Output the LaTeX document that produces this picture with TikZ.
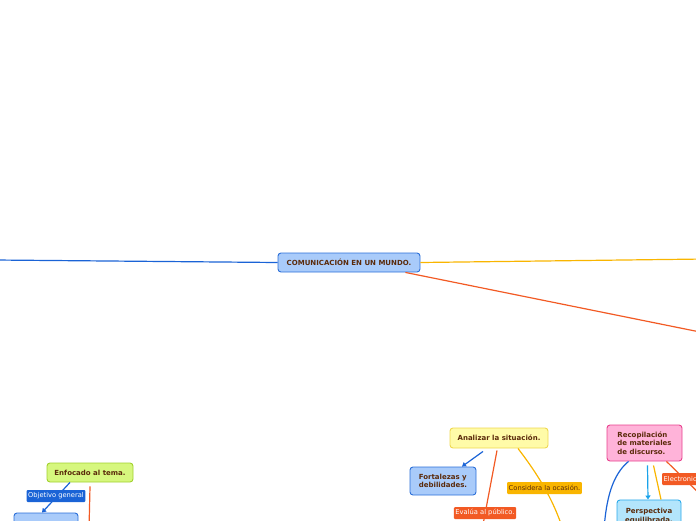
\documentclass[tikz,border=0pt]{standalone}
\usepackage{fontspec}
\setmainfont{DejaVu Sans}
\usepackage{tikz}
\usetikzlibrary{arrows.meta,positioning,calc}
\definecolor{cafe}{HTML}{5A2A0A}
\definecolor{azulF}{HTML}{A9CBFA}
\definecolor{azulB}{HTML}{2B6FD8}
\definecolor{verdeF}{HTML}{D6F77E}
\definecolor{verdeB}{HTML}{A2D12E}
\definecolor{amaF}{HTML}{FFFBA8}
\definecolor{amaB}{HTML}{EED850}
\definecolor{rosaF}{HTML}{FFB3D9}
\definecolor{rosaB}{HTML}{E8418E}
\definecolor{celF}{HTML}{B3E5FC}
\definecolor{celB}{HTML}{2AA9EA}
\definecolor{linAzul}{HTML}{1A63D6}
\definecolor{linAma}{HTML}{F9B500}
\definecolor{linRoja}{HTML}{F25A24}
\definecolor{linCel}{HTML}{1AA3EA}
\tikzstyle{tema}=[rounded corners=3pt, line width=0.9pt, align=left, text=cafe,
  font=\fontsize{7}{8.5}\selectfont\bfseries, inner sep=2pt]
\tikzstyle{etiqueta}=[rounded corners=1pt, align=center, font=\fontsize{6.7}{7.5}\selectfont,
  inner sep=1.5pt, minimum height=12pt]
\tikzstyle{rama}=[line width=1.2pt]
\tikzstyle{flecha}=[-{Triangle[length=4pt,width=5pt]}, line width=1.2pt]

\begin{document}
\begin{tikzpicture}[x=1pt,y=-1pt]
\useasboundingbox (0,0) rectangle (696,520);
\clip (0,0) rectangle (696,520);
% nodo central
\node[tema, draw=azulB, fill=azulF, minimum width=142pt, minimum height=19pt, align=center]
  (central) at (349,262.5) {COMUNICACIÓN EN UN MUNDO.};
\coordinate (izq) at (-5,260);
\coordinate (der) at (705,259);
\coordinate (abajo) at (705,333);
\draw[rama,linAzul] (izq) -- (central.west);
\draw[rama,linAma] (central.east) -- (der);
\draw[rama,linRoja] ($(central.south east)+(-15,0)$) -- (abajo);
% rama: enfocado al tema
\node[tema, draw=verdeB, fill=verdeF, minimum width=86pt, minimum height=19pt, align=center]
  (enfocado) at (90,472.5) {Enfocado al tema.};
\node[tema, draw=azulB, fill=azulF, minimum width=64pt, minimum height=30pt]
  (objetivo) at (46,528) {};
\coordinate (enfBajo) at (89,530);
\draw[rama,linRoja] ($(enfocado.south)+(0,4)$) -- (enfBajo);
\draw[flecha,linAzul] ($(enfocado.south)+(-20,0)$) -- ($(objetivo.north)+(-4,0)$);
\node[etiqueta, fill=linAzul, text=white] (lblObj) at (56,496) {Objetivo general};
% rama: analizar la situación
\node[tema, draw=amaB, fill=amaF, minimum width=98pt, minimum height=20pt, align=center]
  (analizar) at (499,438) {Analizar la situación.};
\node[tema, draw=azulB, fill=azulF, minimum width=66pt, minimum height=28pt]
  (fortalezas) at (443,481) {Fortalezas y\\debilidades.};
\coordinate (anaRoja) at (482,530);
\coordinate (anaAma) at (563,530);
\draw[flecha,linAzul] ($(analizar.south)+(-16,3)$) -- ($(fortalezas.north)+(19,0)$);
\draw[rama,linRoja] ($(analizar.south)+(-2,2)$) -- (anaRoja);
\draw[rama,linAma] ($(analizar.south)+(19,0)$) .. controls (536,472) and (553,498) .. (anaAma);
\node[etiqueta, fill=linAma, text=cafe] (lblOcasion) at (544.5,488) {Considera la ocasión.};
\node[etiqueta, fill=linRoja, text=white] (lblPublico) at (485,513) {Evalúa al público.};
% rama: recopilación de materiales
\node[tema, draw=rosaB, fill=rosaF, minimum width=75pt, minimum height=36pt]
  (recopilacion) at (644.5,443) {Recopilación\\de materiales\\de discurso.};
\node[tema, draw=celB, fill=celF, minimum width=64pt, minimum height=32pt, anchor=north,
  align=center] (perspectiva) at (649,499.5) {Perspectiva\\equilibrada.};
\coordinate (recAzul) at (604,530);
\coordinate (recRoja) at (706,500);
\draw[rama,linAzul] ($(recopilacion.south)+(-16,0)$) .. controls (612,475) and (606,500) .. (recAzul);
\draw[rama,linAma] ($(recopilacion.south)+(9,4)$) -- ($(perspectiva.north)+(12,0)$);
\draw[flecha,linCel] ($(recopilacion.south)+(3,4)$) -- ($(perspectiva.north)+(-1,0)$);
\draw[rama,linRoja] ($(recopilacion.south)+(22,0)$) -- (recRoja);
\node[etiqueta, fill=linRoja, text=white, anchor=west, text width=50pt, align=left]
  (lblElec) at (662,479) {Electronic};
\end{tikzpicture}
\end{document}
